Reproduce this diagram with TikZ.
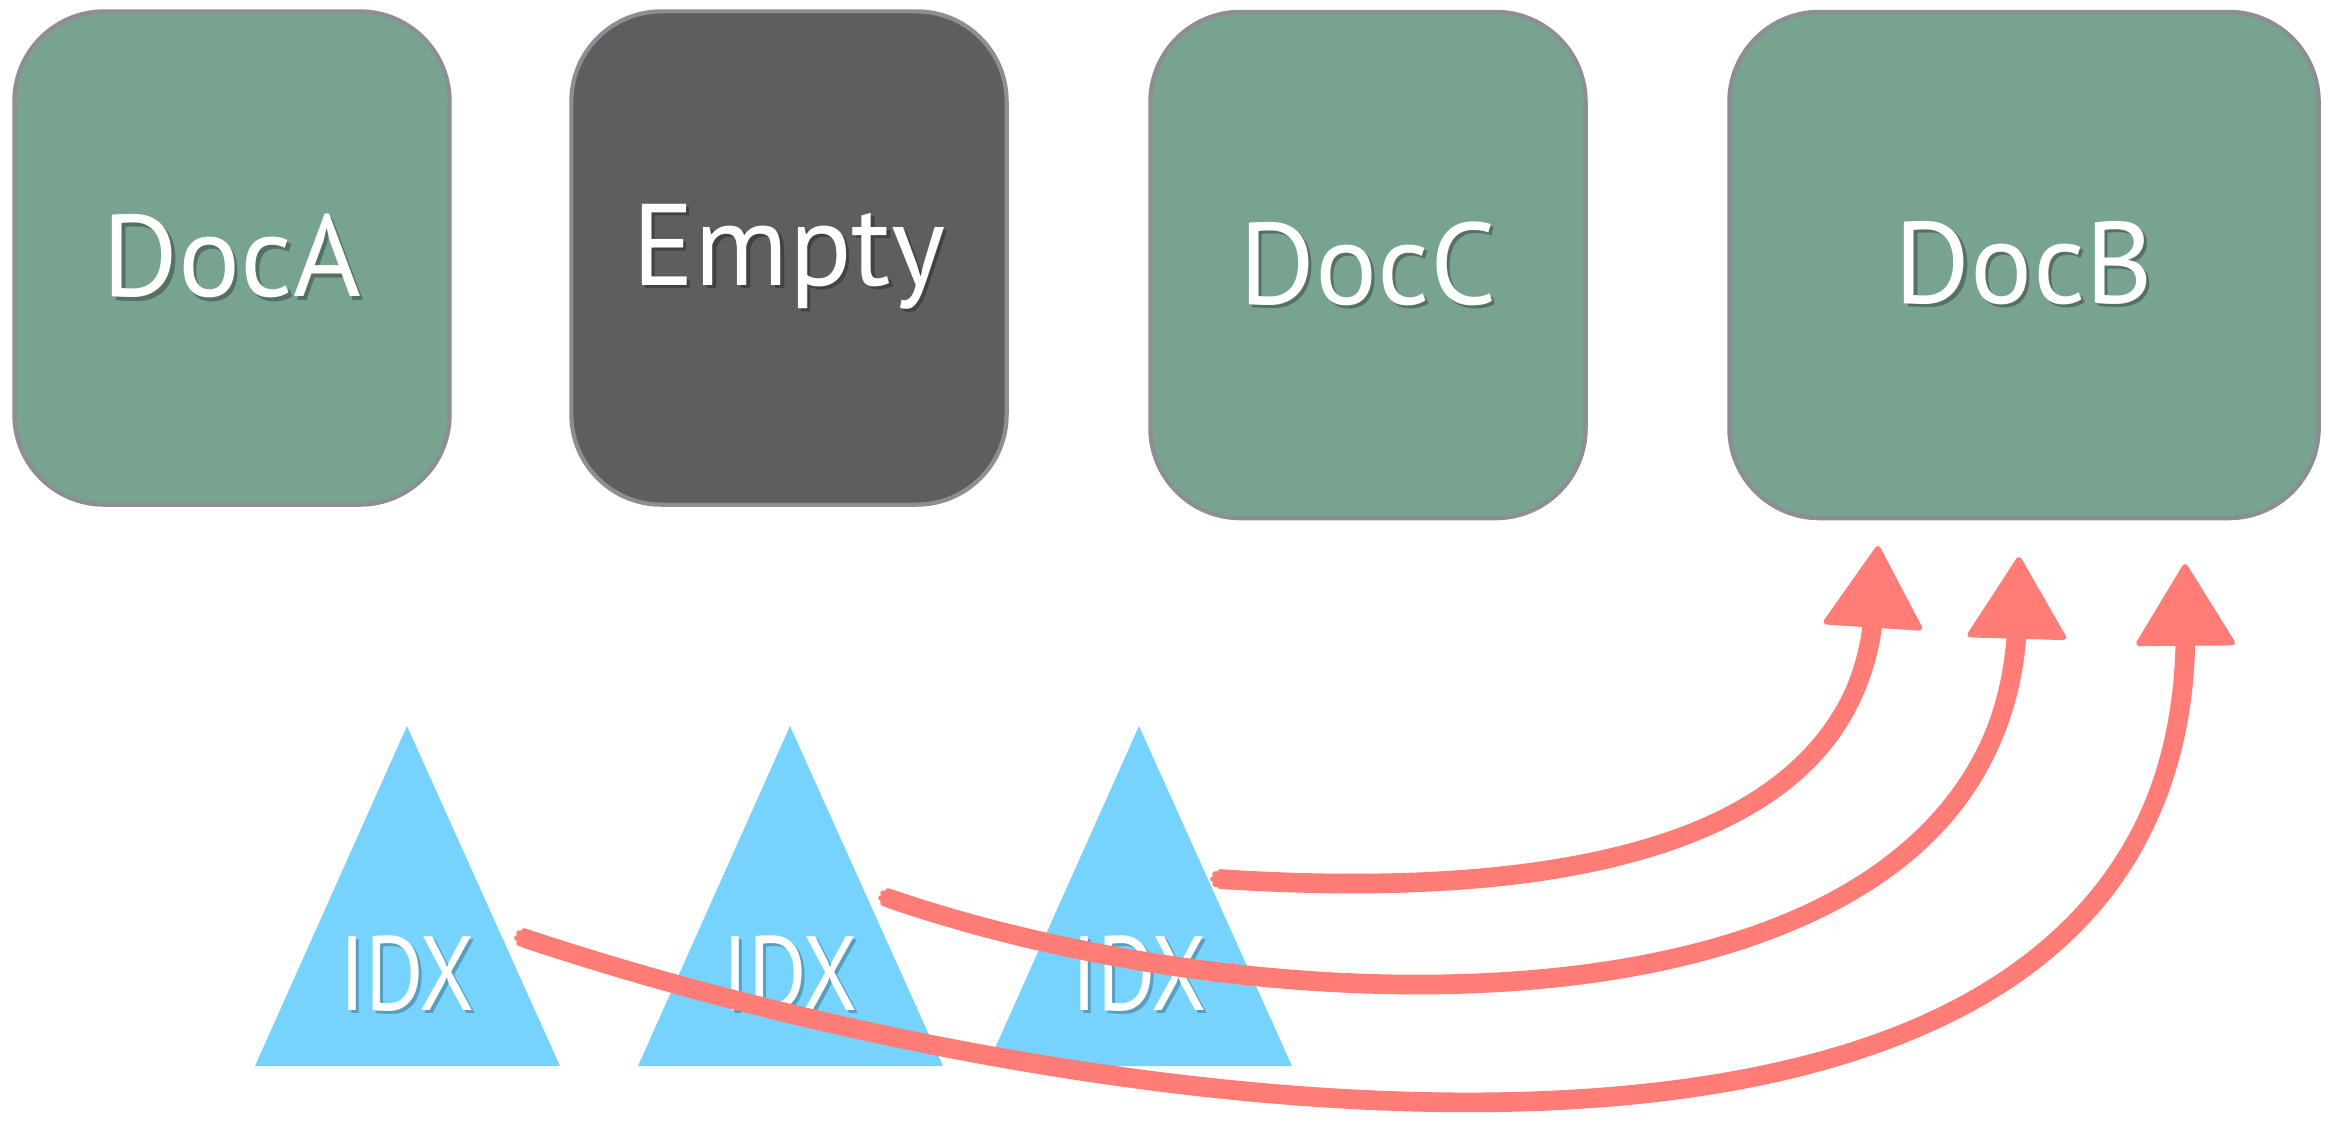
\documentclass[tikz,border=0pt]{standalone}
\usepackage{fontspec}
\usepackage{xcolor}
\usepackage{tikz}
\usetikzlibrary{arrows.meta,calc}
\newfontfamily\labelfont{PT Sans}
\definecolor{docgreen}{HTML}{78A38F}
\definecolor{docgray}{HTML}{5E5E5E}
\definecolor{boxline}{HTML}{8C8E93}
\definecolor{idxblue}{HTML}{76D3FE}
\definecolor{chalkred}{HTML}{FF7C77}
\newcommand\shadowtext[2]{\rlap{\kern0.9pt\raisebox{-0.9pt}{\textcolor{#1}{#2}}}#2}
% one chalk stroke = a bundle of thin passes round the centre line
\newcommand\chalkpath[4]{%
  \foreach \a in {0,45,...,315}
    \draw[chalk,shorten >=18pt] ($(#1)+(\a:2pt)$) .. controls ($(#2)+(\a:2pt)$)
      and ($(#3)+(\a:2pt)$) .. ($(#4)+(\a:2pt)$);
  \draw[chalk,-{Triangle[length=24pt,width=29pt,round]}] (#1) .. controls (#2) and (#3) .. (#4);}

\begin{document}
\begin{tikzpicture}[x=0.01cm,y=-0.01cm,
  docbox/.style={draw=boxline,line width=1.2pt,rounded corners=0.9cm,fill=docgreen,
    minimum width=4.35cm,minimum height=4.93cm,text=white,
    font=\labelfont\fontsize{33}{40}\selectfont},
  idxtri/.style={fill=idxblue},
  idxlabel/.style={text=white,inner sep=0pt,font=\labelfont\fontsize{30}{36}\selectfont},
  chalk/.style={draw=chalkred,line width=1.6pt,line cap=round}]
\useasboundingbox (0,0) rectangle (2328,1123);
% documents
\node[docbox] (docA) at (232,258) {\shadowtext{docgreen!70!black}{DocA}};
\node[docbox,fill=docgray] (empty) at (789,258) {\shadowtext{docgray!70!black}{Empty}};
\node[docbox,minimum height=5.06cm] (docC) at (1368,265) {\shadowtext{docgreen!70!black}{DocC}};
\node[docbox,minimum height=5.06cm,minimum width=5.89cm] (docB) at (2024,265) {\shadowtext{docgreen!70!black}{DocB}};
% index triangles
\foreach \i/\x in {1/407,2/790,3/1139}{
  \fill[idxtri] (\x,726) -- ++(-152,340) -- ++(305,0) -- cycle;
  \node[idxlabel] (idx\i) at (\x,975) {\shadowtext{idxblue!75!black}{\scalebox{0.85}[1]{IDX}}};
}
% pointer ends and bends
\coordinate (s1) at (1220,879);  \coordinate (e1) at (1878,546);
\coordinate (s2) at (888,898);   \coordinate (e2) at (2019,557);
\coordinate (s3) at (524,938);   \coordinate (e3) at (2185,564);
\coordinate (k1a) at (1620,905); \coordinate (k1b) at (1860,820);
\coordinate (k2a) at (1300,1040); \coordinate (k2b) at (2005,1045);
\coordinate (k3a) at (1100,1130); \coordinate (k3b) at (2190,1280);
\chalkpath{s1}{k1a}{k1b}{e1}
\chalkpath{s2}{k2a}{k2b}{e2}
\chalkpath{s3}{k3a}{k3b}{e3}
\end{tikzpicture}
\end{document}
